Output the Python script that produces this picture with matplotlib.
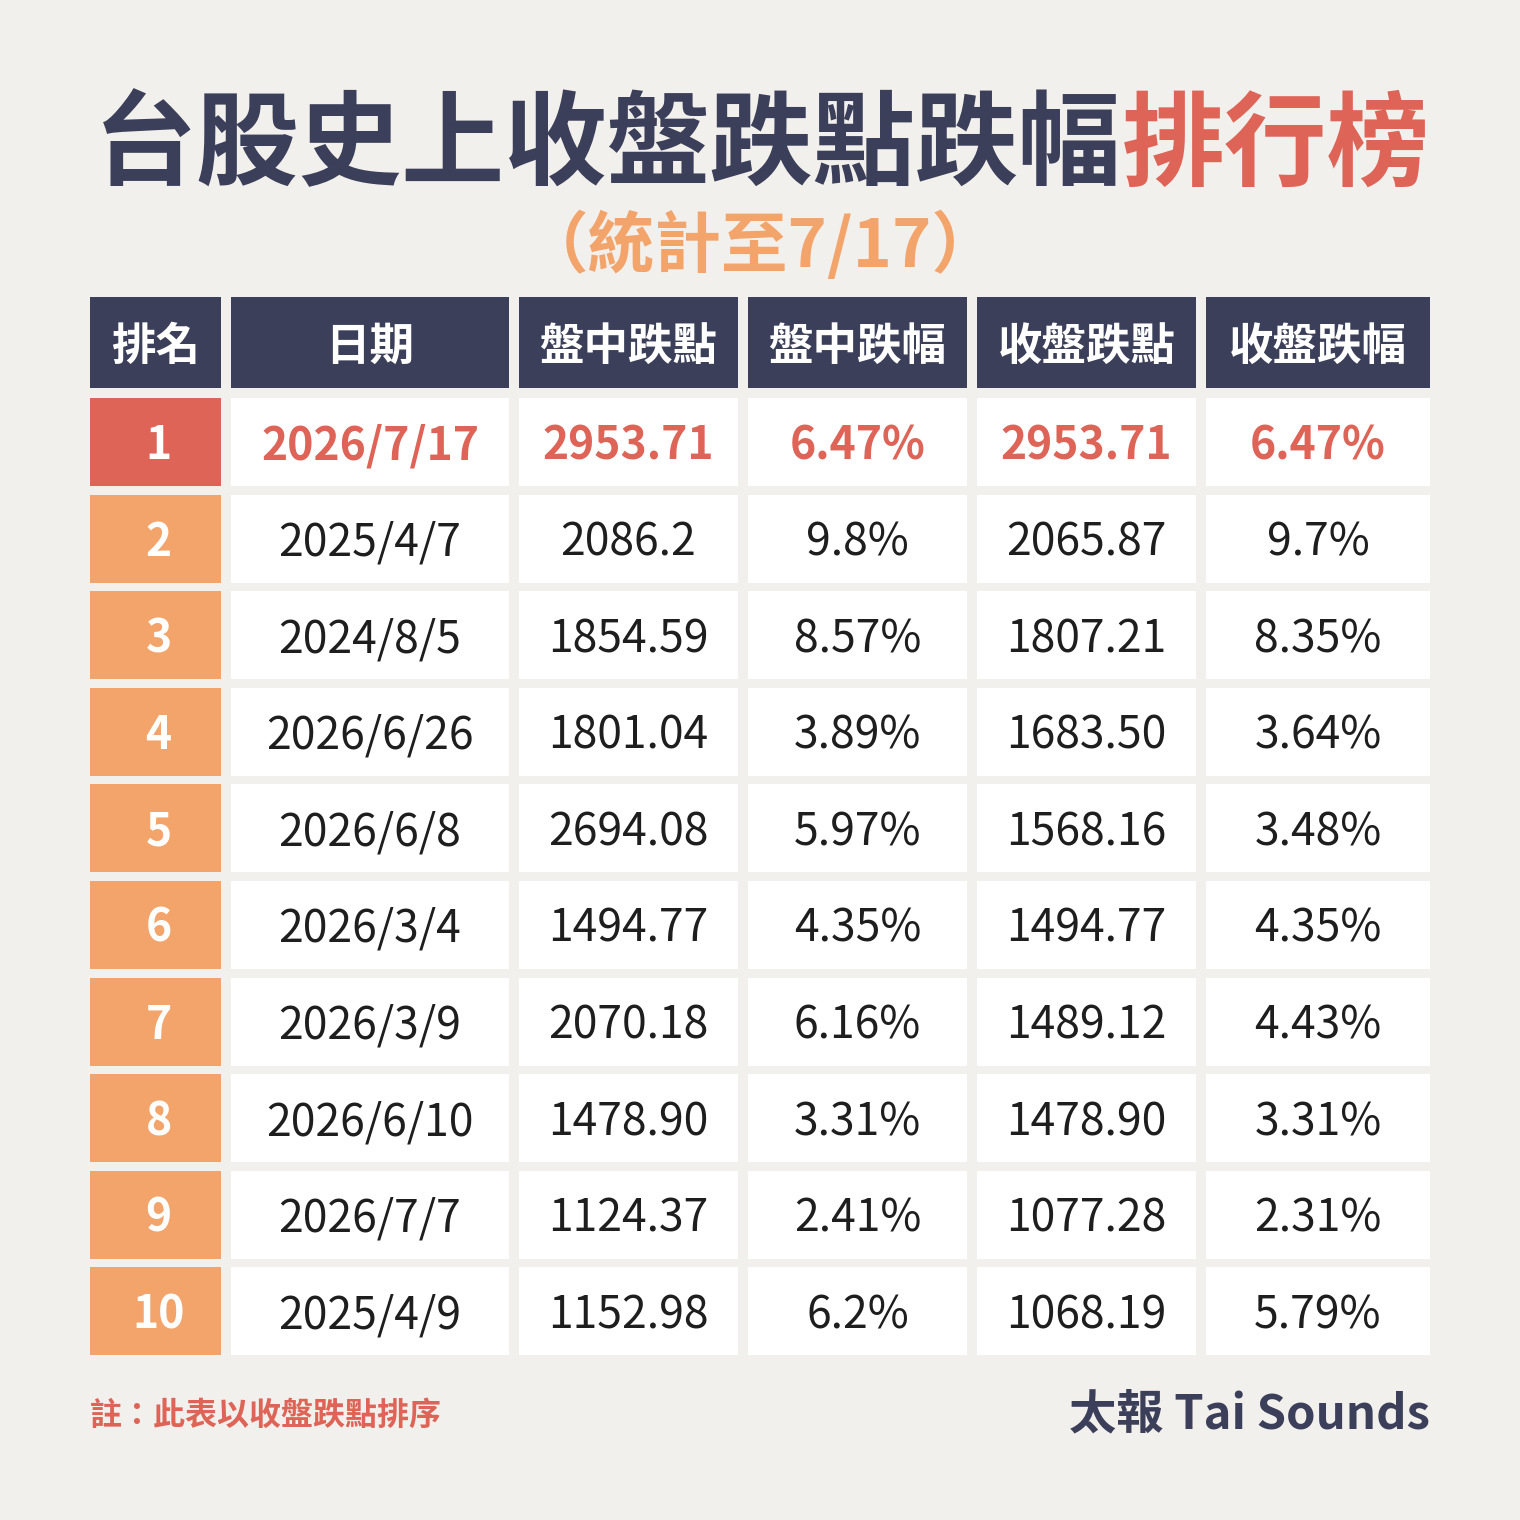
import matplotlib
matplotlib.use("Agg")
import matplotlib.pyplot as plt
from matplotlib.patches import Rectangle

plt.rcParams["font.family"] = ["Noto Sans CJK TC", "DejaVu Sans"]

BG = "#F2F0EC"
NAVY = "#3B3F59"
RED = "#DE6457"
ORANGE = "#F3A46B"

title_main = "台股史上收盤跌點跌幅"
title_hot = "排行榜"
subtitle = "（統計至7/17）"
headers = ["排名", "日期", "盤中跌點", "盤中跌幅", "收盤跌點", "收盤跌幅"]
ranks = ["1", "2", "3", "4", "5", "6", "7", "8", "9", "10"]
dates = ["2026/7/17", "2025/4/7", "2024/8/5", "2026/6/26", "2026/6/8",
         "2026/3/4", "2026/3/9", "2026/6/10", "2026/7/7", "2025/4/9"]
intraday_pts = ["2953.71", "2086.2", "1854.59", "1801.04", "2694.08",
                "1494.77", "2070.18", "1478.90", "1124.37", "1152.98"]
intraday_pct = ["6.47%", "9.8%", "8.57%", "3.89%", "5.97%",
                "4.35%", "6.16%", "3.31%", "2.41%", "6.2%"]
close_pts = ["2953.71", "2065.87", "1807.21", "1683.50", "1568.16",
             "1494.77", "1489.12", "1478.90", "1077.28", "1068.19"]
close_pct = ["6.47%", "9.7%", "8.35%", "3.64%", "3.48%",
             "4.35%", "4.43%", "3.31%", "2.31%", "5.79%"]
note = "註：此表以收盤跌點排序"
brand = "太報 Tai Sounds"

W = 1520
fig = plt.figure(figsize=(15.2, 15.2), dpi=100, facecolor=BG)
ax = fig.add_axes([0, 0, 1, 1])
ax.set_xlim(0, W)
ax.set_ylim(W, 0)
ax.axis("off")
ax.set_facecolor(BG)

# title in two colours, measured so the whole line is centred
t1 = ax.text(0, 147, title_main, fontsize=74, fontweight="black", color=NAVY,
             va="center", ha="left")
t2 = ax.text(0, 147, title_hot, fontsize=74, fontweight="black", color=RED,
             va="center", ha="left")
fig.canvas.draw()
r = fig.canvas.get_renderer()
w1 = t1.get_window_extent(r).width
w2 = t2.get_window_extent(r).width
x0 = (W - w1 - w2) / 2 + 2
t1.set_x(x0)
t2.set_x(x0 + w1)

ax.text(W / 2, 246, subtitle, fontsize=48, fontweight="bold", color=ORANGE,
        ha="center", va="center")

# table grid
col_x = [(90, 221), (231, 509), (519, 738), (748, 967), (977, 1196), (1206, 1430)]
head_top, head_h = 297, 91
row_top0, row_pitch, row_h = 398, 96.6, 88
dy = 4  # CJK glyph box sits a little high with va=center

for (a, b), h in zip(col_x, headers):
    ax.add_patch(Rectangle((a, head_top), b - a, head_h, color=NAVY, lw=0))
    ax.text((a + b) / 2, head_top + head_h / 2 + dy, h, fontsize=32, fontweight="bold",
            color="white", ha="center", va="center")

columns = [dates, intraday_pts, intraday_pct, close_pts, close_pct]
for i, rk in enumerate(ranks):
    top = row_top0 + i * row_pitch
    cy = top + row_h / 2 + dy
    first = i == 0
    a, b = col_x[0]
    ax.add_patch(Rectangle((a, top), b - a, row_h, color=RED if first else ORANGE, lw=0))
    ax.text((a + b) / 2 + 3, cy, rk, fontsize=32, fontweight="bold", color="white",
            ha="center", va="center")
    for (a, b), col in zip(col_x[1:], columns):
        ax.add_patch(Rectangle((a, top), b - a, row_h, color="white", lw=0))
        ax.text((a + b) / 2, cy, col[i], fontsize=32,
                fontweight="bold" if first else "normal",
                color=RED if first else "#1E1E1E", ha="center", va="center")

ax.text(90, 1416, note, fontsize=23, fontweight="bold", color=RED,
        ha="left", va="center")
ax.text(1430, 1414, brand, fontsize=34, fontweight="bold", color=NAVY,
        ha="right", va="center")

fig.savefig("out.png", dpi=100, facecolor=BG)
